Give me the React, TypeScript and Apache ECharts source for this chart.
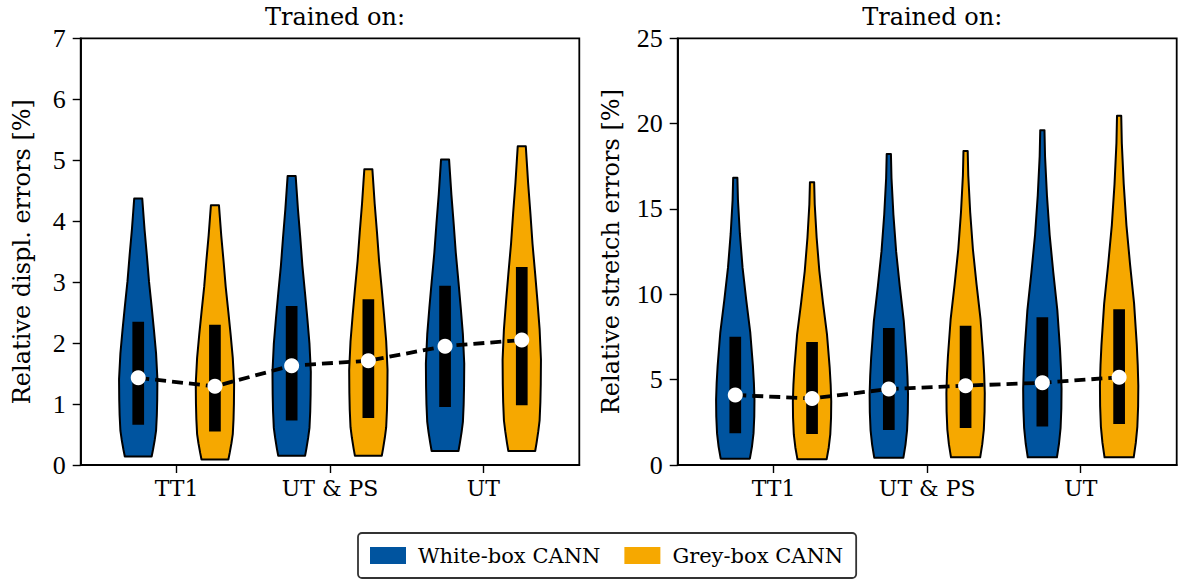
import React, { useEffect, useRef } from "react";
import * as echarts from "echarts";

// ---------- data ----------
const categories = ["TT1", "UT & PS", "UT"];
const seriesNames = ["White-box CANN", "Grey-box CANN"];
const seriesColors = ["#00549F", "#F6A800"];

// Relative displacement errors [%]
const whiteDispMin = [0.14, 0.15, 0.23];
const whiteDispMax = [4.37, 4.74, 5.01];
const whiteDispQ1 = [0.66, 0.73, 0.95];
const whiteDispQ3 = [2.35, 2.61, 2.94];
const whiteDispMed = [1.43, 1.63, 1.95];
const greyDispMin = [0.09, 0.15, 0.23];
const greyDispMax = [4.26, 4.85, 5.23];
const greyDispQ1 = [0.55, 0.77, 0.98];
const greyDispQ3 = [2.3, 2.72, 3.25];
const greyDispMed = [1.29, 1.71, 2.05];

// Relative stretch errors [%]
const whiteStrMin = [0.37, 0.43, 0.45];
const whiteStrMax = [16.83, 18.22, 19.62];
const whiteStrQ1 = [1.86, 2.05, 2.25];
const whiteStrQ3 = [7.52, 8.03, 8.65];
const whiteStrMed = [4.1, 4.45, 4.82];
const greyStrMin = [0.33, 0.45, 0.45];
const greyStrMax = [16.56, 18.4, 20.46];
const greyStrQ1 = [1.82, 2.17, 2.4];
const greyStrQ3 = [7.2, 8.16, 9.12];
const greyStrMed = [3.9, 4.65, 5.14];

// violin outline profiles (relative height from min to max, relative width)
const dispProfileT = [0, 0.026, 0.064, 0.1, 0.16, 0.22, 0.3, 0.4, 0.49, 0.58, 0.68, 0.78, 0.88, 0.95, 1];
const dispProfileW = [0.7, 0.77, 0.86, 0.93, 0.97, 0.99, 1.0, 0.93, 0.82, 0.7, 0.56, 0.45, 0.33, 0.26, 0.21];
const strProfileT = [0, 0.043, 0.09, 0.15, 0.21, 0.27, 0.33, 0.45, 0.565, 0.68, 0.8, 0.92, 1];
const strProfileW = [0.76, 0.87, 0.95, 0.99, 1.0, 0.97, 0.92, 0.78, 0.57, 0.38, 0.24, 0.14, 0.11];

const dispTickMax = 7;
const strTickMax = 25;

// ---------- layout ----------
const SERIF = "DejaVu Serif";
const NUMFONT = "Liberation Serif";
const HALF_WIDTH = 0.125;
const OFFSETS = [-0.25, 0.25];
const GRID_TOP = 38.3;
const GRID_H = 426.7;
const GRIDS = [
  { left: 80.7, top: GRID_TOP, width: 498.6, height: GRID_H },
  { left: 677.7, top: GRID_TOP, width: 499, height: GRID_H },
];

function violinSeries(
  name: string,
  color: string,
  offset: number,
  mins: number[],
  maxs: number[],
  q1s: number[],
  q3s: number[],
  pt: number[],
  pw: number[],
  axisIndex: number
) {
  const data = categories.map((_, i) => [i + 1 + offset, mins[i], maxs[i], q1s[i], q3s[i]]);
  return {
    type: "custom",
    name,
    xAxisIndex: axisIndex,
    yAxisIndex: axisIndex,
    itemStyle: { color },
    data,
    encode: { x: 0, y: [1, 2] },
    z: 2,
    renderItem: (params: any, api: any) => {
      const x = api.value(0);
      const mn = api.value(1);
      const mx = api.value(2);
      const q1 = api.value(3);
      const q3 = api.value(4);
      const right: number[][] = [];
      const left: number[][] = [];
      pt.forEach((t, k) => {
        const y = mn + t * (mx - mn);
        const hw = HALF_WIDTH * pw[k];
        right.push(api.coord([x + hw, y]));
        left.push(api.coord([x - hw, y]));
      });
      const pts = right.concat(left.reverse());
      const top = api.coord([x, q3]);
      const bot = api.coord([x, q1]);
      return {
        type: "group",
        children: [
          {
            type: "polygon",
            shape: { points: pts },
            style: { fill: color, stroke: "#000", lineWidth: 2, lineJoin: "round" },
          },
          {
            type: "rect",
            shape: { x: top[0] - 5.85, y: top[1], width: 11.7, height: bot[1] - top[1] },
            style: { fill: "#000" },
          },
        ],
      };
    },
  };
}

function medianPoints(white: number[], grey: number[]) {
  const pts: number[][] = [];
  categories.forEach((_, i) => {
    pts.push([i + 1 + OFFSETS[0], white[i]]);
    pts.push([i + 1 + OFFSETS[1], grey[i]]);
  });
  return pts;
}

function medianSeries(pts: number[][], axisIndex: number) {
  return [
    {
      type: "line",
      name: "median-line-" + axisIndex,
      xAxisIndex: axisIndex,
      yAxisIndex: axisIndex,
      data: pts,
      symbol: "none",
      lineStyle: { color: "#000", width: 3.8, type: [11, 6], cap: "butt" },
      z: 4,
      silent: true,
    },
    {
      type: "scatter",
      name: "median-" + axisIndex,
      xAxisIndex: axisIndex,
      yAxisIndex: axisIndex,
      data: pts,
      symbol: "circle",
      symbolSize: 15,
      itemStyle: { color: "#ffffff", opacity: 1 },
      z: 5,
      silent: true,
    },
  ];
}

function xAxis(gridIndex: number) {
  return {
    type: "value",
    gridIndex,
    min: 0.375,
    max: 3.625,
    splitLine: { show: false },
    axisLine: { show: true, lineStyle: { color: "#000", width: 1.8 } },
    axisTick: {
      show: true,
      length: 8,
      inside: false,
      customValues: [1, 2, 3],
      lineStyle: { color: "#000", width: 1.4 },
    },
    axisLabel: {
      show: true,
      customValues: [1, 2, 3],
      formatter: (v: number) => categories[Math.round(v) - 1] ?? "",
      fontFamily: SERIF,
      fontSize: 22,
      color: "#000",
      margin: 12,
    },
  };
}

function yAxis(gridIndex: number, max: number, interval: number, name: string, nameGap: number) {
  return {
    type: "value",
    gridIndex,
    min: 0,
    max,
    interval,
    name,
    nameLocation: "middle",
    nameGap,
    nameTextStyle: { fontFamily: SERIF, fontSize: 24, color: "#000" },
    splitLine: { show: false },
    axisLine: { show: true, lineStyle: { color: "#000", width: 1.8 } },
    axisTick: { show: true, length: 8, inside: false, lineStyle: { color: "#000", width: 1.4 } },
    axisLabel: { fontFamily: NUMFONT, fontSize: 26, color: "#000", margin: 15 },
  };
}

export default function App() {
  const ref = useRef<HTMLDivElement>(null);
  useEffect(() => {
    document.body.style.margin = "0";
    if (!ref.current) return;
    const chart = echarts.init(ref.current, null, { renderer: "svg" });
    const titleStyle = { fontFamily: SERIF, fontSize: 24, fontWeight: "normal", color: "#000" };
    const option: any = {
      animation: false,
      backgroundColor: "#fff",
      title: [
        {
          text: "Trained on:",
          left: GRIDS[0].left + GRIDS[0].width / 2,
          top: 0,
          textAlign: "center",
          textStyle: titleStyle,
        },
        {
          text: "Trained on:",
          left: GRIDS[1].left + GRIDS[1].width / 2,
          top: 0,
          textAlign: "center",
          textStyle: titleStyle,
        },
      ],
      legend: {
        data: seriesNames,
        left: 358,
        top: 533,
        orient: "horizontal",
        icon: "rect",
        itemWidth: 36,
        itemHeight: 17,
        itemGap: 24,
        padding: [12, 13, 12, 12],
        borderColor: "#333",
        borderWidth: 1.8,
        borderRadius: 4,
        backgroundColor: "#fff",
        selectedMode: false,
        textStyle: { fontFamily: SERIF, fontSize: 21, color: "#000", padding: [0, 0, 0, 7] },
      },
      grid: GRIDS.map((g) => ({
        ...g,
        show: true,
        borderColor: "#000",
        borderWidth: 1.8,
        backgroundColor: "transparent",
        containLabel: false,
      })),
      xAxis: [xAxis(0), xAxis(1)],
      yAxis: [
        yAxis(0, dispTickMax, 1, "Relative displ. errors [%]", 47),
        yAxis(1, strTickMax, 5, "Relative stretch errors [%]", 55),
      ],
      series: [
        violinSeries(seriesNames[0], seriesColors[0], OFFSETS[0], whiteDispMin, whiteDispMax, whiteDispQ1, whiteDispQ3, dispProfileT, dispProfileW, 0),
        violinSeries(seriesNames[1], seriesColors[1], OFFSETS[1], greyDispMin, greyDispMax, greyDispQ1, greyDispQ3, dispProfileT, dispProfileW, 0),
        violinSeries(seriesNames[0], seriesColors[0], OFFSETS[0], whiteStrMin, whiteStrMax, whiteStrQ1, whiteStrQ3, strProfileT, strProfileW, 1),
        violinSeries(seriesNames[1], seriesColors[1], OFFSETS[1], greyStrMin, greyStrMax, greyStrQ1, greyStrQ3, strProfileT, strProfileW, 1),
        ...medianSeries(medianPoints(whiteDispMed, greyDispMed), 0),
        ...medianSeries(medianPoints(whiteStrMed, greyStrMed), 1),
      ],
    };
    chart.setOption(option);
    return () => chart.dispose();
  }, []);
  return <div ref={ref} style={{ width: 1184, height: 581 }} />;
}
